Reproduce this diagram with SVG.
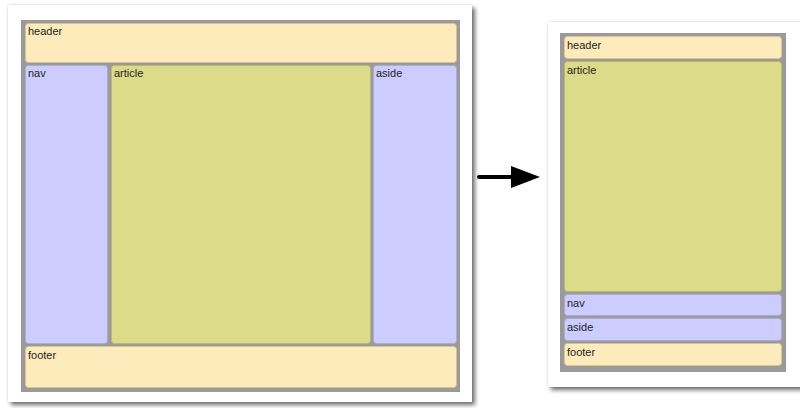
<svg xmlns="http://www.w3.org/2000/svg" width="800" height="408" viewBox="0 0 800 408">
<style>
.card{fill:#ffffff;filter:url(#sh)}
.frame{fill:#9a9a9a}
.yel{fill:#feebbb;stroke:#d9c48e;stroke-width:1}
.blu{fill:#ccccfe;stroke:#aaaadb;stroke-width:1}
.art{fill:#dbdb8a;stroke:#b9b96c;stroke-width:1}
text{font-family:"Liberation Sans",Arial,sans-serif;font-size:11px;fill:#1e1e1e}
</style>
<defs>
<filter id="sh" x="-5%" y="-5%" width="115%" height="115%">
<feDropShadow dx="0" dy="0" stdDeviation="1.5" flood-color="#000" flood-opacity="0.15" result="a"/>
<feDropShadow dx="3" dy="3" stdDeviation="2" flood-color="#000" flood-opacity="0.55"/>
</filter>
</defs>
<rect class="card" x="8" y="5" width="464" height="397"/>
<rect class="frame" x="21" y="20" width="439" height="372"/>
<g id="left-header"><rect class="yel" x="25.5" y="23.5" width="431" height="39" rx="3"/><text x="28" y="35">header</text></g>
<g id="left-nav"><rect class="blu" x="25.5" y="65.5" width="82" height="278" rx="3"/><text x="28" y="77">nav</text></g>
<g id="left-article"><rect class="art" x="111.5" y="65.5" width="259" height="278" rx="3"/><text x="114" y="77">article</text></g>
<g id="left-aside"><rect class="blu" x="373.5" y="65.5" width="83" height="278" rx="3"/><text x="376" y="77">aside</text></g>
<g id="left-footer"><rect class="yel" x="25.5" y="346.5" width="431" height="41" rx="3"/><text x="28" y="359">footer</text></g>
<g id="connectors">
<line x1="479" y1="177" x2="512" y2="177" stroke="#000" stroke-width="4" stroke-linecap="round"/>
<path d="M511,166 L540,177 L511,188 Z" fill="#000"/>
</g>
<rect class="card" x="548" y="22" width="256" height="365"/>
<rect class="frame" x="560" y="33" width="226" height="339"/>
<g id="right-header"><rect class="yel" x="564.5" y="36.5" width="217" height="22" rx="3"/><text x="567" y="49">header</text></g>
<g id="right-article"><rect class="art" x="564.5" y="61.5" width="217" height="230" rx="3"/><text x="567" y="74">article</text></g>
<g id="right-nav"><rect class="blu" x="564.5" y="294.5" width="217" height="21" rx="3"/><text x="567" y="307">nav</text></g>
<g id="right-aside"><rect class="blu" x="564.5" y="318.5" width="217" height="22" rx="3"/><text x="567" y="331">aside</text></g>
<g id="right-footer"><rect class="yel" x="564.5" y="343.5" width="217" height="22" rx="3"/><text x="567" y="356">footer</text></g>
</svg>
